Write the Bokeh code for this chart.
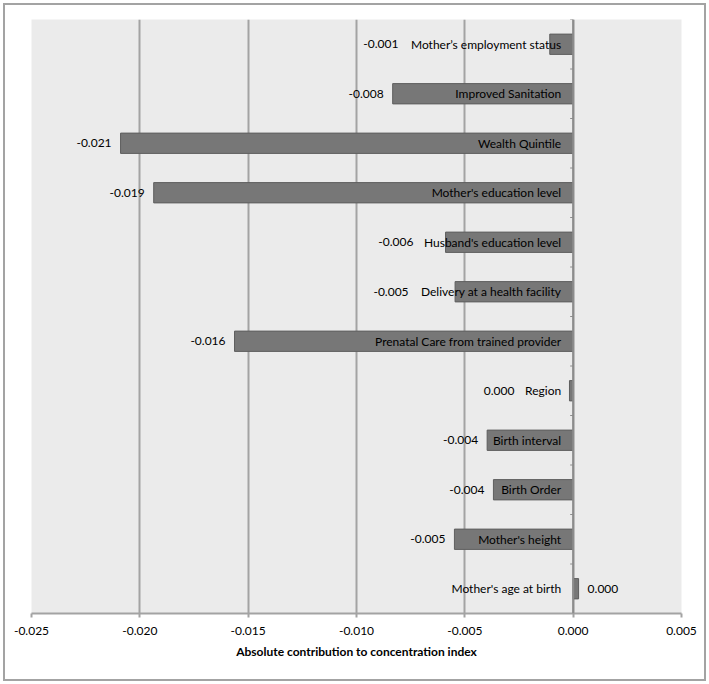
from bokeh.plotting import figure
from bokeh.models import Range1d, FixedTicker, PrintfTickFormatter, Span, ColumnDataSource, InlineStyleSheet
from bokeh.core.properties import value
from bokeh.embed import file_html
from bokeh.resources import INLINE

categories = ["Mother\u2019s employment status", "Improved Sanitation", "Wealth Quintile",
              "Mother's education level", "Husband's education level", "Delivery at a health facility",
              "Prenatal Care from trained provider", "Region", "Birth interval", "Birth Order",
              "Mother's height", "Mother's age at birth"]
contrib = [-0.00108, -0.00833, -0.02089, -0.01936, -0.00589, -0.00545,
           -0.01563, -0.00017, -0.00397, -0.00368, -0.00548, 0.00025]
x_ticks = [-0.025, -0.020, -0.015, -0.010, -0.005, 0.000, 0.005]
x_title = "Absolute contribution to concentration index"

FONT = "Lato"
FS = 12
W, H = 709, 684
L, R, T, B = 31, 28, 19, 71
frame_w = W - L - R
x0, x1 = x_ticks[0], x_ticks[-1]
ppu = frame_w / (x1 - x0)

def text_w(s):
    w = 0.0
    for c in s:
        if c in "iljI'\u2019.,: ":
            w += 0.26
        elif c in "frt":
            w += 0.36
        elif c in "mwMW":
            w += 0.84
        elif c.isupper():
            w += 0.64
        else:
            w += 0.52
    return w * FS

n = len(categories)
ys = [n - i for i in range(n)]
name_gap = 12
val_gap = 9

label_x, label_align, label_off, label_txt = [], [], [], []
for c, v in zip(categories, contrib):
    s = f"{v:.3f}"
    if s == "-0.000":
        s = "0.000"
    label_txt.append(s)
    if v < 0:
        bar_px = v * ppu - val_gap
        name_px = -(name_gap + text_w(c) + 11)
        label_x.append(min(bar_px, name_px) / ppu)
        label_align.append("right")
        label_off.append(0)
    else:
        label_x.append(v)
        label_align.append("left")
        label_off.append(val_gap)

src = ColumnDataSource(dict(y=ys, v=contrib, name=categories, lx=label_x,
                            la=label_align, lo=label_off, lt=label_txt,
                            zero=[0] * n))

p = figure(width=W, height=H, output_backend="svg", toolbar_location=None,
           x_range=Range1d(x0, x1), y_range=Range1d(0.5, n + 0.5),
           y_axis_location=None, min_border_left=L, min_border_right=R,
           min_border_top=T, min_border_bottom=B)
p.stylesheets = [InlineStyleSheet(css=(
    ":host { position: relative; }\n"
    ":host::after { content: ''; position: absolute; left: 3px; top: 3px; "
    "right: 3px; bottom: 3px; border: 2px solid #a3a3a3; pointer-events: none; z-index: 10; }"
))]
p.background_fill_color = "#ebebeb"
p.border_fill_color = "white"
p.outline_line_color = None
p.ygrid.visible = False
p.xgrid.ticker = FixedTicker(ticks=x_ticks)
p.xgrid.grid_line_color = "#a3a3a3"
p.xgrid.grid_line_width = 2

ax = p.xaxis[0]
ax.ticker = FixedTicker(ticks=x_ticks)
ax.formatter = PrintfTickFormatter(format="%.3f")
ax.axis_line_color = "#a3a3a3"
ax.axis_line_width = 2
ax.major_tick_line_color = "#a3a3a3"
ax.major_tick_line_width = 2
ax.major_tick_out = 4
ax.major_tick_in = 0
ax.minor_tick_line_color = None
ax.major_label_text_font = FONT
ax.major_label_text_font_size = f"{FS}px"
ax.major_label_text_color = "#000000"
ax.major_label_standoff = 9
ax.axis_label = x_title
ax.axis_label_text_font = FONT
ax.axis_label_text_font_size = f"{FS}px"
ax.axis_label_text_font_style = "bold"
ax.axis_label_text_color = "#000000"
ax.axis_label_standoff = 6

p.hbar(y="y", left="zero", right="v", height=0.41, source=src,
       fill_color="#777777", line_color="#5e5e5e", line_width=1)

p.add_layout(Span(location=0, dimension="height", line_color="#8c8c8c", line_width=2))

bounds = [k + 0.5 for k in range(n + 1)]
p.segment(x0=[0] * len(bounds), x1=[-3.0 / ppu] * len(bounds), y0=bounds, y1=bounds,
          line_color="#8c8c8c", line_width=1)

p.text(x="zero", y="y", text="name", source=src, x_offset=-name_gap,
       text_align="right", text_baseline="middle", text_font=value(FONT),
       text_font_size=f"{FS}px", text_color="#000000")
p.text(x="lx", y="y", text="lt", source=src, x_offset="lo",
       text_align="la", text_baseline="middle", text_font=value(FONT),
       text_font_size=f"{FS}px", text_color="#000000")

open("out.html", "w").write(file_html(p, INLINE))
